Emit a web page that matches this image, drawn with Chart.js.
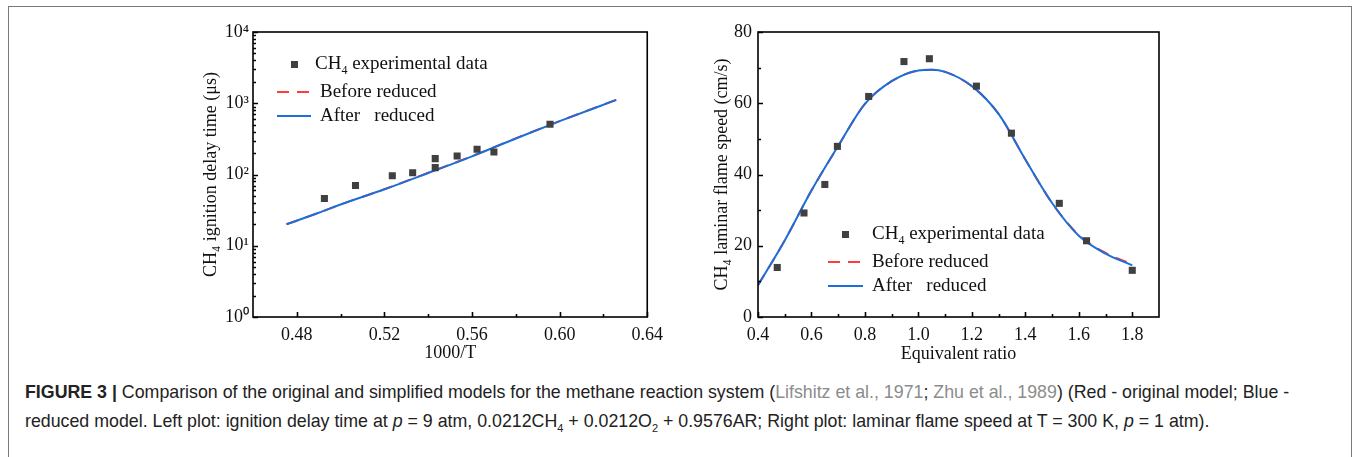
<!DOCTYPE html>
<html>
<head>
<meta charset="utf-8">
<script src="https://cdn.jsdelivr.net/npm/chart.js@4.4.1/dist/chart.umd.min.js"></script>
<style>
  body { margin: 0; background: #fff; width: 1356px; height: 457px; overflow: hidden; position: relative; }
  #frame { position: absolute; left: 8px; top: 6px; width: 1342px; height: 470px;
    border: 1.5px solid #7a7a7a; border-bottom: none; }
  canvas { position: absolute; }
  .leg { position: absolute; font-family: "Liberation Serif", "Times New Roman", serif;
    font-size: 19px; line-height: 20px; color: #111; white-space: pre; }
  .sq { position: absolute; width: 7px; height: 7px; background: #404040; }
  .ln { position: absolute; height: 2px; }
  .solid { background: #1a6fd8; }
  .dash { background: repeating-linear-gradient(to right, #ff3b3b 0 12px, transparent 12px 20px); }
  .cap { position: absolute; left: 25px; font-family: "Liberation Sans", Arial, sans-serif;
    font-size: 17.8px; line-height: 20px; color: #222; white-space: nowrap; }
  .cap .ref { color: #8c8c8c; }
</style>
</head>
<body>
<div id="frame"></div>
<canvas id="ignition_chart" width="480" height="360" style="left:190px;top:10px"></canvas>
<canvas id="flame_chart" width="480" height="360" style="left:690px;top:10px"></canvas>

<div class="sq" style="left:291px;top:61px"></div>
<div class="leg" style="left:315px;top:53px">CH<sub style="font-size:12px">4</sub> experimental data</div>
<div class="ln dash" style="left:277px;top:91px;width:32px"></div>
<div class="leg" style="left:320px;top:81px">Before reduced</div>
<div class="ln solid" style="left:277px;top:115px;width:34px"></div>
<div class="leg" style="left:320px;top:105px">After   reduced</div>

<div class="sq" style="left:842px;top:231px"></div>
<div class="leg" style="left:872px;top:223px">CH<sub style="font-size:12px">4</sub> experimental data</div>
<div class="ln dash" style="left:828px;top:261px;width:33px"></div>
<div class="leg" style="left:872px;top:251px">Before reduced</div>
<div class="ln solid" style="left:828px;top:285px;width:35px"></div>
<div class="leg" style="left:872px;top:275px">After   reduced</div>

<div class="cap" style="top:382px"><b>FIGURE 3 |</b> Comparison of the original and simplified models for the methane reaction system (<span class="ref">Lifshitz et al., 1971</span>; <span class="ref">Zhu et al., 1989</span>) (Red - original model; Blue -</div>
<div class="cap" style="top:411px">reduced model. Left plot: ignition delay time at <i>p</i> = 9 atm, 0.0212CH<sub style="font-size:11px">4</sub> + 0.0212O<sub style="font-size:11px">2</sub> + 0.9576AR; Right plot: laminar flame speed at T = 300 K, <i>p</i> = 1 atm).</div>

<script>
"use strict";

// left plot: ignition delay time
const ignitionExpX = [0.4926, 0.5068, 0.5236, 0.5329, 0.5432, 0.5432, 0.5532, 0.5623, 0.57, 0.5956];
const ignitionExpY = [46, 70, 96, 106, 167, 125, 182, 226, 207, 506];
const ignitionLineX = [0.4753, 0.49, 0.5, 0.52, 0.54, 0.56, 0.58, 0.6, 0.6259];
const ignitionBeforeY = [20, 29, 38, 62, 106, 181, 322, 562, 1120];
const ignitionAfterY = [20, 29, 38, 62, 105, 180, 320, 560, 1115];
const ignitionTicksX = [0.48, 0.52, 0.56, 0.6, 0.64];
const ignitionMinorX = [0.5, 0.54, 0.58, 0.62];
const ignitionTicksY = [1, 10, 100, 1000, 10000];

// right plot: laminar flame speed
const flameExpX = [0.472, 0.572, 0.65, 0.697, 0.814, 0.946, 1.041, 1.217, 1.348, 1.527, 1.629, 1.8];
const flameExpY = [13.9, 29.2, 37.2, 47.9, 61.9, 71.7, 72.5, 64.8, 51.6, 31.9, 21.4, 13.1];
const flameLineX = [0.4, 0.5, 0.6, 0.7, 0.8, 0.9, 1.0, 1.05, 1.1, 1.2, 1.3, 1.4, 1.5, 1.6, 1.7, 1.8];
const flameBeforeY = [8.9, 21.5, 35.5, 48, 59.8, 66.2, 69.2, 69.4, 68.8, 64.8, 57, 44.2, 32, 23, 18, 14.8];
const flameAfterY = [8.9, 21.5, 35.5, 48, 59.8, 66.2, 69.2, 69.4, 68.8, 64.8, 57, 44.2, 32, 22.8, 17.8, 14.5];
const flameTicksX = [0.4, 0.6, 0.8, 1.0, 1.2, 1.4, 1.6, 1.8];
const flameMinorX = [0.5, 0.7, 0.9, 1.1, 1.3, 1.5, 1.7];
const flameTicksY = [0, 20, 40, 60, 80];
const flameMinorY = [10, 30, 50, 70];

Chart.defaults.font.family = "'Liberation Serif', 'Times New Roman', serif";
Chart.defaults.font.size = 18;
Chart.defaults.color = "#111";

const pairs = (xs, ys) => xs.map((x, i) => ({ x: x, y: ys[i] }));
const sup = ["\u2070", "\u00b9", "\u00b2", "\u00b3", "\u2074"];

const logMinor = [];
for (let d = 0; d < 4; d++) {
  for (let m = 2; m < 10; m++) logMinor.push(m * Math.pow(10, d));
}

// box round the plot area, with inward ticks on the bottom and left
const innerTicks = {
  id: "innerTicks",
  afterDraw(chart, args, opts) {
    const { ctx, chartArea: a } = chart;
    const sx = chart.scales.x;
    const sy = chart.scales.y;
    ctx.save();
    ctx.strokeStyle = "#000";
    ctx.lineWidth = 1.6;
    ctx.strokeRect(a.left, a.top, a.right - a.left, a.bottom - a.top);
    ctx.beginPath();
    const xTick = (v, len) => {
      const px = Math.round(sx.getPixelForValue(v)) + 0.5;
      ctx.moveTo(px, a.bottom);
      ctx.lineTo(px, a.bottom - len);
    };
    const yTick = (v, len) => {
      const py = Math.round(sy.getPixelForValue(v)) + 0.5;
      ctx.moveTo(a.left, py);
      ctx.lineTo(a.left + len, py);
    };
    sx.ticks.forEach((t) => xTick(t.value, 5));
    opts.xMinor.forEach((v) => xTick(v, 3));
    sy.ticks.forEach((t) => yTick(t.value, 5));
    opts.yMinor.forEach((v) => yTick(v, 3));
    ctx.stroke();
    ctx.restore();
  }
};

function axisX(min, max, ticks, digits, title, titlePad) {
  return {
    type: "linear",
    min: min,
    max: max,
    afterBuildTicks: (s) => { s.ticks = ticks.map((v) => ({ value: v })); },
    afterFit: (s) => { s.height = 53; },
    grid: { display: false, drawTicks: false },
    border: { display: false },
    ticks: { padding: 7, autoSkip: false, maxRotation: 0, callback: (v) => Number(v).toFixed(digits) },
    title: { display: true, text: title, padding: { top: 0, bottom: titlePad } }
  };
}

const ignitionChart = new Chart(document.getElementById("ignition_chart").getContext("2d"), {
  type: "scatter",
  data: {
    datasets: [
      {
        label: "CH4 experimental data",
        data: pairs(ignitionExpX, ignitionExpY),
        pointStyle: "rect",
        pointRadius: 5,
        backgroundColor: "#404040",
        borderWidth: 0,
        order: 0
      },
      {
        label: "After   reduced",
        data: pairs(ignitionLineX, ignitionAfterY),
        showLine: true,
        cubicInterpolationMode: "monotone",
        pointRadius: 0,
        borderColor: "#1a6fd8",
        borderWidth: 2,
        order: 1
      },
      {
        label: "Before reduced",
        data: pairs(ignitionLineX, ignitionBeforeY),
        showLine: true,
        cubicInterpolationMode: "monotone",
        pointRadius: 0,
        borderColor: "#ff3b3b",
        borderDash: [12, 8],
        borderWidth: 2,
        order: 2
      }
    ]
  },
  options: {
    responsive: false,
    animation: false,
    layout: { padding: { top: 22, right: 18, left: 0, bottom: 0 } },
    plugins: {
      legend: { display: false },
      tooltip: { enabled: false },
      innerTicks: { xMinor: ignitionMinorX, yMinor: logMinor }
    },
    scales: {
      x: axisX(0.46, 0.64, ignitionTicksX, 2, "1000/T", 6),
      y: {
        type: "logarithmic",
        min: 1,
        max: 10000,
        afterBuildTicks: (s) => { s.ticks = ignitionTicksY.map((v) => ({ value: v })); },
        afterFit: (s) => { s.width = 63; },
        grid: { display: false, drawTicks: false },
        border: { display: false },
        ticks: { padding: 4, callback: (v) => "10" + sup[Math.round(Math.log10(v))] },
        title: { display: true, text: "CH\u2084 ignition delay time (\u03bcs)", padding: { top: 10, bottom: 0 } }
      }
    }
  },
  plugins: [innerTicks]
});

const flameChart = new Chart(document.getElementById("flame_chart").getContext("2d"), {
  type: "scatter",
  data: {
    datasets: [
      {
        label: "CH4 experimental data",
        data: pairs(flameExpX, flameExpY),
        pointStyle: "rect",
        pointRadius: 5,
        backgroundColor: "#404040",
        borderWidth: 0,
        order: 0
      },
      {
        label: "After   reduced",
        data: pairs(flameLineX, flameAfterY),
        showLine: true,
        cubicInterpolationMode: "monotone",
        pointRadius: 0,
        borderColor: "#1a6fd8",
        borderWidth: 2,
        order: 1
      },
      {
        label: "Before reduced",
        data: pairs(flameLineX, flameBeforeY),
        showLine: true,
        cubicInterpolationMode: "monotone",
        pointRadius: 0,
        borderColor: "#ff3b3b",
        borderDash: [12, 8],
        borderWidth: 2,
        order: 2
      }
    ]
  },
  options: {
    responsive: false,
    animation: false,
    layout: { padding: { top: 22, right: 11, left: 0, bottom: 0 } },
    plugins: {
      legend: { display: false },
      tooltip: { enabled: false },
      innerTicks: { xMinor: flameMinorX, yMinor: flameMinorY }
    },
    scales: {
      x: axisX(0.4, 1.9, flameTicksX, 1, "Equivalent ratio", 5),
      y: {
        type: "linear",
        min: 0,
        max: 80,
        afterBuildTicks: (s) => { s.ticks = flameTicksY.map((v) => ({ value: v })); },
        afterFit: (s) => { s.width = 68; },
        grid: { display: false, drawTicks: false },
        border: { display: false },
        ticks: { padding: 6 },
        title: { display: true, text: "CH\u2084 laminar flame speed (cm/s)", padding: { top: 21, bottom: 0 } }
      }
    }
  },
  plugins: [innerTicks]
});
</script>
</body>
</html>
